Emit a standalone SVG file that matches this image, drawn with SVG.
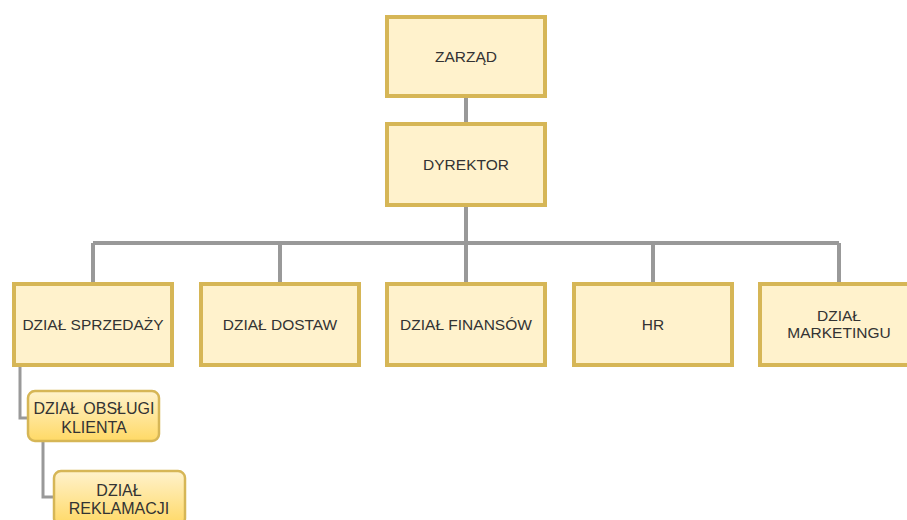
<svg xmlns="http://www.w3.org/2000/svg" width="907" height="520" viewBox="0 0 907 520">
<defs>
<linearGradient id="g" x1="0" y1="0" x2="0" y2="1">
<stop offset="0" stop-color="#fff2cc"/>
<stop offset="1" stop-color="#ffd966"/>
</linearGradient>
<style>
.box{fill:#fff2cc;stroke:#d6b656;stroke-width:4}
.sub{fill:url(#g);stroke:#d6b656;stroke-width:2.5}
.t{font-family:"Liberation Sans",Arial,sans-serif;font-size:15.5px;fill:#333;text-anchor:middle}
.s{font-size:16px}
.c{fill:none;stroke:#999;stroke-width:4}
.c2{fill:none;stroke:#999;stroke-width:3}
</style>
</defs>
<rect width="907" height="520" fill="#fff"/>
<g id="connectors">
<path class="c" d="M466 97V284"/>
<path class="c" d="M93 243H839"/>
<path class="c" d="M93 243V284M280 243V284M653 243V284M839 243V284"/>
<path class="c2" d="M20 366V418H28"/>
<path class="c2" d="M43 441V497H54"/>
</g>
<g id="zarzad"><rect class="box" x="387" y="17" width="158" height="79"/><text class="t" x="466" y="57" dy=".35em">ZARZĄD</text></g>
<g id="dyrektor"><rect class="box" x="387" y="124" width="158" height="81"/><text class="t" x="466" y="165" dy=".35em">DYREKTOR</text></g>
<g id="sprzedazy"><rect class="box" x="14" y="284" width="158" height="81"/><text class="t" x="93" y="325" dy=".35em">DZIAŁ SPRZEDAŻY</text></g>
<g id="dostaw"><rect class="box" x="201" y="284" width="158" height="81"/><text class="t" x="280" y="325" dy=".35em">DZIAŁ DOSTAW</text></g>
<g id="finansow"><rect class="box" x="387" y="284" width="158" height="81"/><text class="t" x="466" y="325" dy=".35em">DZIAŁ FINANSÓW</text></g>
<g id="hr"><rect class="box" x="574" y="284" width="158" height="81"/><text class="t" x="653" y="325" dy=".35em">HR</text></g>
<g id="marketingu"><rect class="box" x="760" y="284" width="158" height="81"/><text class="t" x="839" y="316" dy=".35em">DZIAŁ</text><text class="t" x="839" y="333" dy=".35em">MARKETINGU</text></g>
<g id="obslugi"><rect class="sub" x="28" y="391" width="131" height="50" rx="7"/><text class="t s" x="94" y="408" dy=".35em">DZIAŁ OBSŁUGI</text><text class="t s" x="94" y="427" dy=".35em">KLIENTA</text></g>
<g id="reklamacji"><rect class="sub" x="54" y="471" width="131" height="54" rx="7"/><text class="t s" x="119" y="490" dy=".35em">DZIAŁ</text><text class="t s" x="119" y="508" dy=".35em">REKLAMACJI</text></g>
</svg>
